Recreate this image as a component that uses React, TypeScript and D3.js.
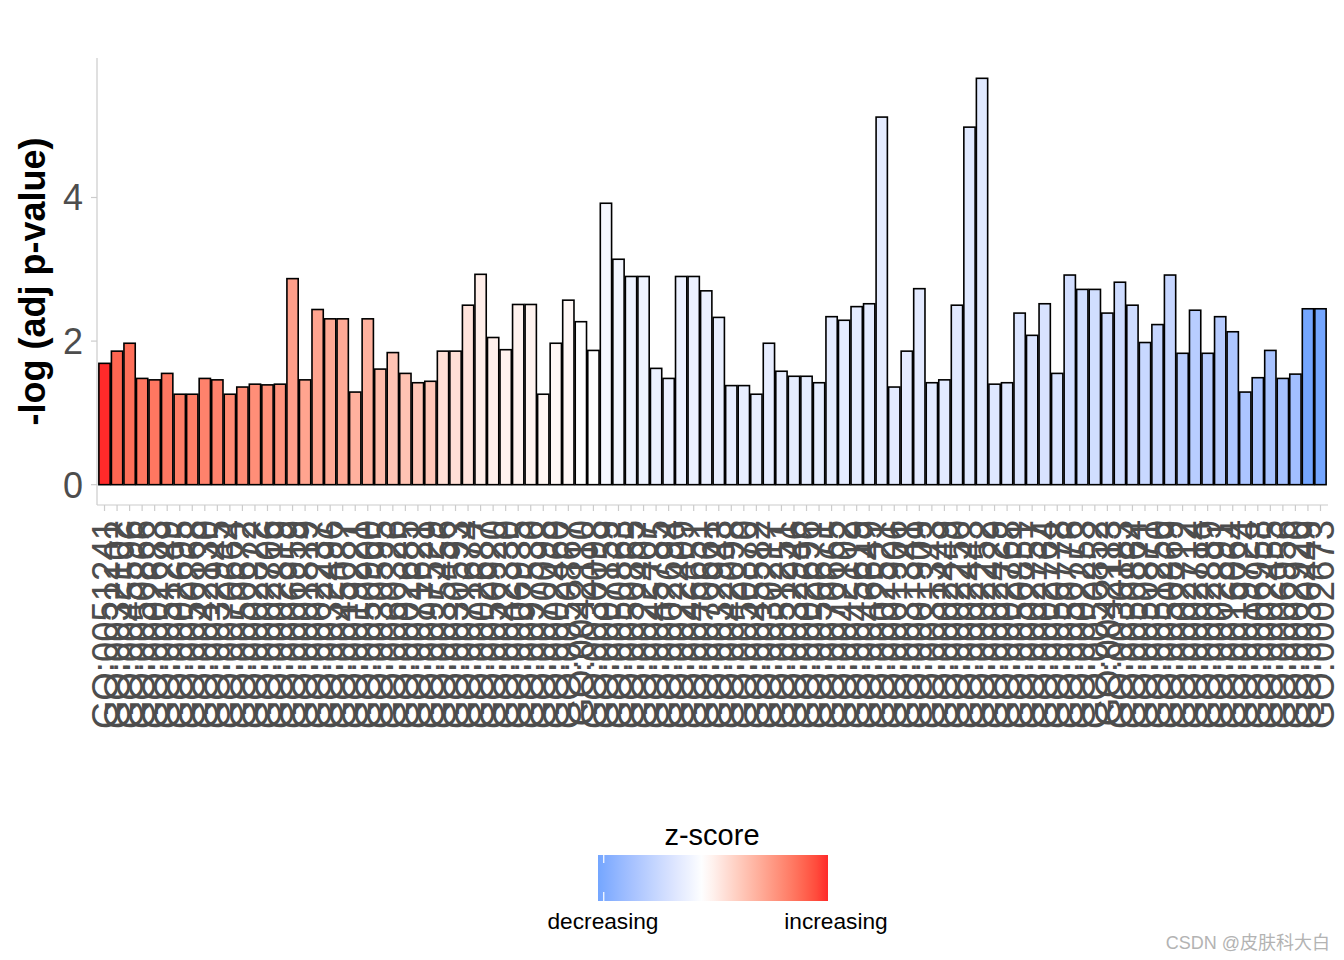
import React from "react";
import * as d3 from "d3";

// GO term ids, ordered by z-score (high -> low), as in the reference
const goIds = [
  "GO:0051241", "GO:0032102", "GO:0045596", "GO:0050866", "GO:0002683", "GO:0051249", "GO:0002695", "GO:0050868", "GO:0042130", "GO:0032945",
  "GO:0070664", "GO:0050672", "GO:0002822", "GO:0002706", "GO:0002819", "GO:0006959", "GO:0001819", "GO:0002237", "GO:0032496", "GO:0045087",
  "GO:0019221", "GO:0050900", "GO:0030595", "GO:0060326", "GO:0002685", "GO:0071621", "GO:0097529", "GO:0035456", "GO:0030593", "GO:0071674",
  "GO:0002687", "GO:0050920", "GO:0042330", "GO:0006935", "GO:0097530", "GO:0070098", "GO:0002460", "GO:0050867", "GO:0042110", "GO:0030098",
  "GO:0007159", "GO:0050863", "GO:0050865", "GO:0022407", "GO:0045785", "GO:0002694", "GO:0022409", "GO:0046651", "GO:0070661", "GO:0032943",
  "GO:0042098", "GO:0050870", "GO:0045582", "GO:0030217", "GO:0051251", "GO:0032946", "GO:0002696", "GO:0050671", "GO:0070665", "GO:0042102",
  "GO:0045619", "GO:0046649", "GO:0002521", "GO:0001906", "GO:0031341", "GO:0001909", "GO:0031343", "GO:0002449", "GO:0002250", "GO:0002443",
  "GO:0002252", "GO:0002429", "GO:0002768", "GO:0050851", "GO:0002757", "GO:0002764", "GO:0050778", "GO:0050776", "GO:0002253", "GO:0050852",
  "GO:0042113", "GO:0030183", "GO:0050864", "GO:0050871", "GO:0051250", "GO:0050869", "GO:0002712", "GO:0002714", "GO:0002889", "GO:0002891",
  "GO:0016064", "GO:0019724", "GO:0006958", "GO:0002455", "GO:0006956", "GO:0002920", "GO:0030449", "GO:0002673",
];

// -log(adj p-value)
const logAdjP = [
  1.69, 1.86, 1.97, 1.48, 1.46, 1.55, 1.26, 1.26, 1.48, 1.46,
  1.26, 1.36, 1.40, 1.39, 1.40, 2.87, 1.46, 2.44, 2.31, 2.31,
  1.29, 2.31, 1.61, 1.84, 1.55, 1.42, 1.44, 1.86, 1.86, 2.50,
  2.93, 2.05, 1.88, 2.51, 2.51, 1.26, 1.97, 2.57, 2.27, 1.87,
  3.92, 3.14, 2.90, 2.90, 1.62, 1.48, 2.90, 2.90, 2.70, 2.33,
  1.38, 1.38, 1.26, 1.97, 1.58, 1.51, 1.51, 1.42, 2.34, 2.29,
  2.48, 2.52, 5.12, 1.36, 1.86, 2.73, 1.42, 1.46, 2.50, 4.98,
  5.66, 1.40, 1.42, 2.39, 2.08, 2.52, 1.55, 2.92, 2.72, 2.72,
  2.39, 2.82, 2.50, 1.98, 2.23, 2.92, 1.83, 2.43, 1.83, 2.34,
  2.13, 1.29, 1.49, 1.87, 1.48, 1.54, 2.45, 2.45,
];

// z-score (estimated from fill colour)
const zScores = [
  4.00, 3.21, 3.05, 2.89, 2.89, 2.89, 2.77, 2.77, 2.68, 2.68,
  2.53, 2.50, 2.45, 2.40, 2.33, 2.12, 2.00, 2.00, 1.89, 1.89,
  1.73, 1.73, 1.50, 1.34, 1.34, 1.26, 1.26, 0.71, 0.71, 0.63,
  0.38, 0.33, 0.30, 0.30, 0.28, 0.20, 0.18, 0.16, 0.00, 0.00,
  -0.24, -0.33, -0.45, -0.45, -0.50, -0.50, -0.52, -0.52, -0.55, -0.58,
  -0.63, -0.63, -0.63, -0.65, -0.65, -0.67, -0.67, -0.67, -0.69, -0.69,
  -0.71, -0.71, -0.71, -0.73, -0.73, -0.76, -0.78, -0.78, -0.80, -0.82,
  -0.82, -0.85, -0.85, -1.00, -1.00, -1.04, -1.04, -1.20, -1.22, -1.22,
  -1.26, -1.29, -1.29, -1.45, -1.50, -1.50, -1.80, -1.85, -1.85, -1.89,
  -2.12, -2.14, -2.20, -2.24, -2.31, -2.40, -3.37, -3.37,
];

const yTicks = [0, 2, 4];
const legendLabels = ["decreasing", "increasing"];

const W = 1344;
const H = 960;
const panel = { left: 97, right: 1328, top: 58, bottom: 505 };
const font = "'Liberation Sans', Arial, sans-serif";
const axisGrey = "#cccccc";
const textGrey = "#4d4d4d";

export default function App() {
  const data = goIds.map((id, i) => ({ id, v: logAdjP[i], z: zScores[i] }));

  const x = d3
    .scaleBand<string>()
    .domain(goIds)
    .range([panel.left, panel.right])
    .paddingInner(0.1)
    .paddingOuter(0.15);

  const yMax = d3.max(logAdjP) as number;
  const y = d3
    .scaleLinear()
    .domain([-0.05 * yMax, yMax * 1.05])
    .range([panel.bottom, panel.top]);

  const zMin = d3.min(zScores) as number;
  const zMax = d3.max(zScores) as number;
  const color = d3
    .scaleLinear<string>()
    .domain([zMin, 0, zMax])
    .range(["#74a6ff", "#ffffff", "#ff2a2a"])
    .interpolate(d3.interpolateLab);

  // legend colourbar
  const lg = { x0: 598, x1: 828, y0: 855, y1: 901 };
  const stops = d3.range(21).map((i) => {
    const t = i / 20;
    return { off: t, c: color(zMin + t * (zMax - zMin)) };
  });
  const binOff = (lg.x1 - lg.x0) * (0.5 / 20);

  return (
    <svg
      width={W}
      height={H}
      style={{ position: "absolute", left: 0, top: 0, background: "#fff" }}
      fontFamily={font}
    >
      <defs>
        <linearGradient id="zgrad" x1="0" x2="1" y1="0" y2="0">
          {stops.map((s, i) => (
            <stop key={i} offset={s.off} stopColor={s.c} />
          ))}
        </linearGradient>
      </defs>
      <rect width={W} height={H} fill="#fff" />

      {/* bars */}
      <g>
        {data.map((d) => (
          <rect
            key={d.id}
            x={x(d.id)}
            width={x.bandwidth()}
            y={y(d.v)}
            height={y(0) - y(d.v)}
            fill={color(d.z)}
            stroke="#000"
            strokeWidth={1.6}
          />
        ))}
      </g>

      {/* y axis */}
      <line x1={panel.left} x2={panel.left} y1={panel.top} y2={panel.bottom} stroke={axisGrey} strokeWidth={1.2} />
      {yTicks.map((t) => (
        <g key={t}>
          <line x1={panel.left - 6} x2={panel.left} y1={y(t)} y2={y(t)} stroke={axisGrey} strokeWidth={1.2} />
          <text x={panel.left - 14} y={y(t)} dy="0.36em" textAnchor="end" fontSize={36} fill={textGrey}>
            {t}
          </text>
        </g>
      ))}
      <text
        transform={`translate(45,${(panel.top + panel.bottom) / 2}) rotate(-90)`}
        textAnchor="middle"
        fontSize={36}
        fontWeight="bold"
        fill="#000"
      >
        -log (adj p-value)
      </text>

      {/* x axis */}
      <line x1={panel.left} x2={panel.right} y1={panel.bottom} y2={panel.bottom} stroke={axisGrey} strokeWidth={1.2} />
      {goIds.map((id) => {
        const cx = (x(id) as number) + x.bandwidth() / 2;
        return (
          <g key={id}>
            <line x1={cx} x2={cx} y1={panel.bottom} y2={panel.bottom + 6} stroke={axisGrey} strokeWidth={1.2} />
            <text
              transform={`translate(${cx},${panel.bottom + 15}) rotate(-90)`}
              textAnchor="end"
              dy="0.36em"
              fontSize={36.5}
              fill={textGrey}
            >
              {id}
            </text>
          </g>
        );
      })}

      {/* legend */}
      <text x={712} y={845} textAnchor="middle" fontSize={29} fill="#000">
        z-score
      </text>
      <rect x={lg.x0} y={lg.y0} width={lg.x1 - lg.x0} height={lg.y1 - lg.y0} fill="url(#zgrad)" />
      <line x1={lg.x0 + binOff} x2={lg.x0 + binOff} y1={lg.y0} y2={lg.y0 + 8} stroke="#fff" strokeWidth={1.2} />
      <line x1={lg.x0 + binOff} x2={lg.x0 + binOff} y1={lg.y1 - 9} y2={lg.y1} stroke="#fff" strokeWidth={1.2} />
      <text x={603} y={929} textAnchor="middle" fontSize={22.7} fill="#000">
        {legendLabels[0]}
      </text>
      <text x={836} y={929} textAnchor="middle" fontSize={22.7} fill="#000">
        {legendLabels[1]}
      </text>

      {/* watermark */}
      <text
        x={1330}
        y={949}
        textAnchor="end"
        fontSize={18}
        fill="#b3b3b3"
        fontFamily="'Liberation Sans', 'Noto Sans CJK SC', sans-serif"
      >
        CSDN @皮肤科大白
      </text>
    </svg>
  );
}
